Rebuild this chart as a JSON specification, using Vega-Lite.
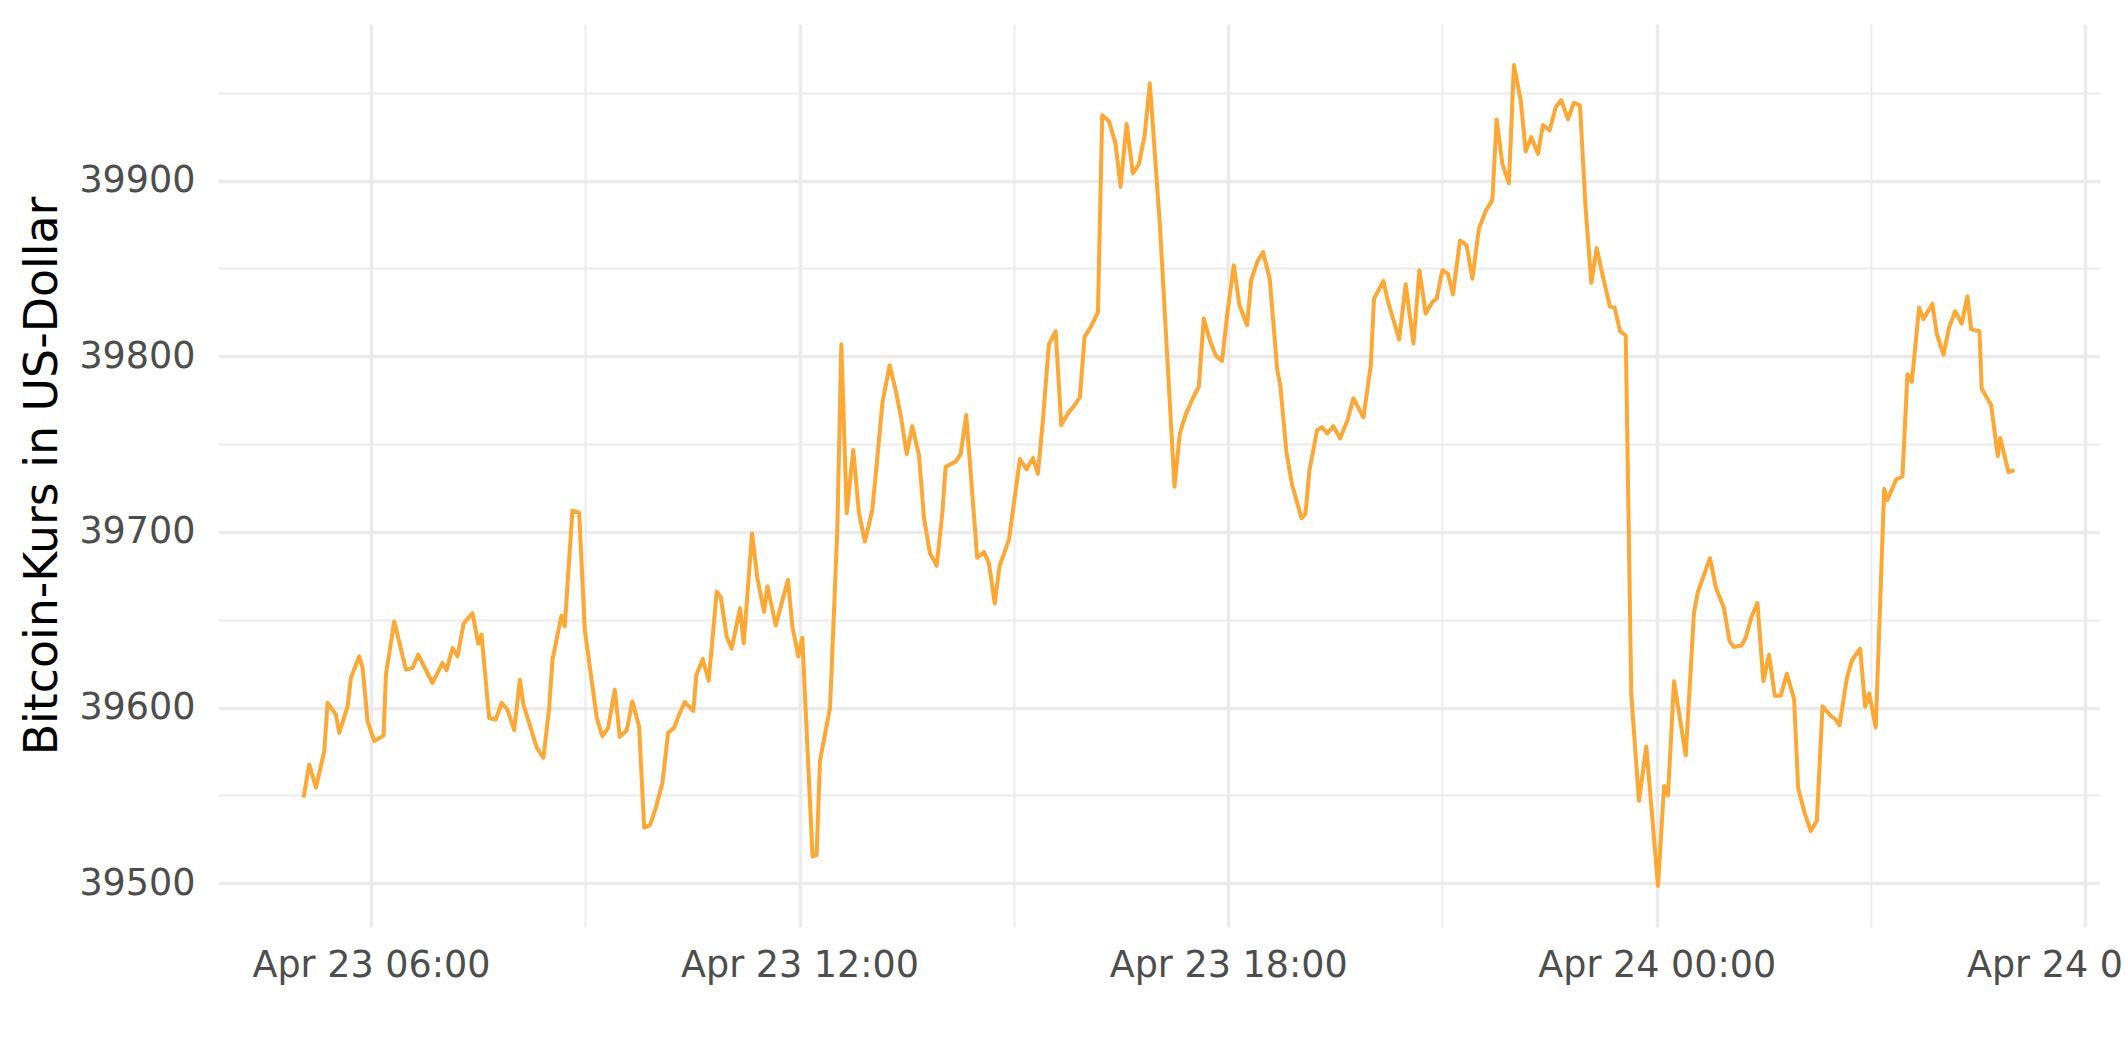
{
  "$schema": "https://vega.github.io/schema/vega-lite/v6.json",
  "width": 1882,
  "height": 903,
  "autosize": {"type": "none"},
  "padding": {"left": 218, "top": 24, "right": 25, "bottom": 135},
  "background": "white",
  "config": {"view": {"stroke": null}, "font": "DejaVu Sans"},
  "data": {"values": [
    {"time": "2022-04-23T05:03:24Z", "price": 39548.7},
    {"time": "2022-04-23T05:08:12Z", "price": 39567.6},
    {"time": "2022-04-23T05:13:48Z", "price": 39554.4},
    {"time": "2022-04-23T05:20:48Z", "price": 39575.2},
    {"time": "2022-04-23T05:23:36Z", "price": 39602.7},
    {"time": "2022-04-23T05:30:36Z", "price": 39596.0},
    {"time": "2022-04-23T05:33:24Z", "price": 39585.6},
    {"time": "2022-04-23T05:40:24Z", "price": 39600.7},
    {"time": "2022-04-23T05:43:12Z", "price": 39616.9},
    {"time": "2022-04-23T05:50:12Z", "price": 39629.2},
    {"time": "2022-04-23T05:53:00Z", "price": 39622.5},
    {"time": "2022-04-23T05:57:12Z", "price": 39592.2},
    {"time": "2022-04-23T06:02:48Z", "price": 39580.9},
    {"time": "2022-04-23T06:10:36Z", "price": 39584.1},
    {"time": "2022-04-23T06:12:36Z", "price": 39618.8},
    {"time": "2022-04-23T06:19:36Z", "price": 39649.0},
    {"time": "2022-04-23T06:29:24Z", "price": 39621.6},
    {"time": "2022-04-23T06:34:54Z", "price": 39622.5},
    {"time": "2022-04-23T06:39:42Z", "price": 39630.1},
    {"time": "2022-04-23T06:51:42Z", "price": 39614.0},
    {"time": "2022-04-23T07:00:06Z", "price": 39625.4},
    {"time": "2022-04-23T07:03:30Z", "price": 39621.2},
    {"time": "2022-04-23T07:08:30Z", "price": 39633.9},
    {"time": "2022-04-23T07:12:42Z", "price": 39629.2},
    {"time": "2022-04-23T07:17:48Z", "price": 39647.7},
    {"time": "2022-04-23T07:25:18Z", "price": 39653.8},
    {"time": "2022-04-23T07:30:06Z", "price": 39636.4},
    {"time": "2022-04-23T07:32:54Z", "price": 39641.5},
    {"time": "2022-04-23T07:39:18Z", "price": 39594.1},
    {"time": "2022-04-23T07:44:54Z", "price": 39593.2},
    {"time": "2022-04-23T07:49:42Z", "price": 39602.7},
    {"time": "2022-04-23T07:54:42Z", "price": 39598.9},
    {"time": "2022-04-23T08:00:18Z", "price": 39587.1},
    {"time": "2022-04-23T08:05:06Z", "price": 39615.9},
    {"time": "2022-04-23T08:08:06Z", "price": 39601.7},
    {"time": "2022-04-23T08:19:18Z", "price": 39577.1},
    {"time": "2022-04-23T08:24:54Z", "price": 39571.4},
    {"time": "2022-04-23T08:29:42Z", "price": 39599.8},
    {"time": "2022-04-23T08:32:30Z", "price": 39627.3},
    {"time": "2022-04-23T08:40:00Z", "price": 39652.3},
    {"time": "2022-04-23T08:42:48Z", "price": 39646.2},
    {"time": "2022-04-23T08:49:12Z", "price": 39712.1},
    {"time": "2022-04-23T08:54:54Z", "price": 39711.0},
    {"time": "2022-04-23T08:59:36Z", "price": 39644.3},
    {"time": "2022-04-23T09:09:42Z", "price": 39594.1},
    {"time": "2022-04-23T09:14:24Z", "price": 39583.7},
    {"time": "2022-04-23T09:19:12Z", "price": 39588.5},
    {"time": "2022-04-23T09:24:48Z", "price": 39610.2},
    {"time": "2022-04-23T09:29:00Z", "price": 39583.3},
    {"time": "2022-04-23T09:34:54Z", "price": 39587.1},
    {"time": "2022-04-23T09:39:36Z", "price": 39603.6},
    {"time": "2022-04-23T09:45:12Z", "price": 39589.4},
    {"time": "2022-04-23T09:49:30Z", "price": 39531.7},
    {"time": "2022-04-23T09:54:30Z", "price": 39533.1},
    {"time": "2022-04-23T09:59:12Z", "price": 39542.8},
    {"time": "2022-04-23T10:04:48Z", "price": 39557.1},
    {"time": "2022-04-23T10:09:36Z", "price": 39585.5},
    {"time": "2022-04-23T10:14:36Z", "price": 39588.5},
    {"time": "2022-04-23T10:18:48Z", "price": 39596.0},
    {"time": "2022-04-23T10:23:36Z", "price": 39603.1},
    {"time": "2022-04-23T10:30:48Z", "price": 39598.1},
    {"time": "2022-04-23T10:33:18Z", "price": 39618.4},
    {"time": "2022-04-23T10:38:42Z", "price": 39627.7},
    {"time": "2022-04-23T10:43:42Z", "price": 39615.3},
    {"time": "2022-04-23T10:50:24Z", "price": 39666.0},
    {"time": "2022-04-23T10:53:48Z", "price": 39663.0},
    {"time": "2022-04-23T10:58:48Z", "price": 39640.3},
    {"time": "2022-04-23T11:03:00Z", "price": 39633.6},
    {"time": "2022-04-23T11:10:00Z", "price": 39656.5},
    {"time": "2022-04-23T11:13:06Z", "price": 39636.6},
    {"time": "2022-04-23T11:20:06Z", "price": 39699.1},
    {"time": "2022-04-23T11:24:36Z", "price": 39673.7},
    {"time": "2022-04-23T11:30:12Z", "price": 39654.5},
    {"time": "2022-04-23T11:33:00Z", "price": 39669.1},
    {"time": "2022-04-23T11:40:00Z", "price": 39646.8},
    {"time": "2022-04-23T11:50:18Z", "price": 39672.7},
    {"time": "2022-04-23T11:53:54Z", "price": 39646.4},
    {"time": "2022-04-23T11:59:00Z", "price": 39629.1},
    {"time": "2022-04-23T12:02:18Z", "price": 39639.8},
    {"time": "2022-04-23T12:10:54Z", "price": 39515.3},
    {"time": "2022-04-23T12:14:18Z", "price": 39516.0},
    {"time": "2022-04-23T12:17:12Z", "price": 39570.0},
    {"time": "2022-04-23T12:25:36Z", "price": 39599.8},
    {"time": "2022-04-23T12:31:42Z", "price": 39701.1},
    {"time": "2022-04-23T12:35:06Z", "price": 39806.8},
    {"time": "2022-04-23T12:39:36Z", "price": 39710.6},
    {"time": "2022-04-23T12:45:06Z", "price": 39746.6},
    {"time": "2022-04-23T12:49:54Z", "price": 39710.6},
    {"time": "2022-04-23T12:54:54Z", "price": 39694.5},
    {"time": "2022-04-23T13:01:06Z", "price": 39712.5},
    {"time": "2022-04-23T13:05:18Z", "price": 39741.9},
    {"time": "2022-04-23T13:09:30Z", "price": 39773.1},
    {"time": "2022-04-23T13:15:42Z", "price": 39794.9},
    {"time": "2022-04-23T13:20:42Z", "price": 39780.7},
    {"time": "2022-04-23T13:24:54Z", "price": 39766.5},
    {"time": "2022-04-23T13:30:00Z", "price": 39744.3},
    {"time": "2022-04-23T13:34:42Z", "price": 39760.2},
    {"time": "2022-04-23T13:40:18Z", "price": 39743.7},
    {"time": "2022-04-23T13:44:30Z", "price": 39707.8},
    {"time": "2022-04-23T13:49:30Z", "price": 39687.9},
    {"time": "2022-04-23T13:55:12Z", "price": 39680.7},
    {"time": "2022-04-23T13:59:54Z", "price": 39710.6},
    {"time": "2022-04-23T14:02:42Z", "price": 39737.1},
    {"time": "2022-04-23T14:11:06Z", "price": 39740.0},
    {"time": "2022-04-23T14:15:18Z", "price": 39744.3},
    {"time": "2022-04-23T14:20:00Z", "price": 39766.5},
    {"time": "2022-04-23T14:29:12Z", "price": 39685.3},
    {"time": "2022-04-23T14:34:54Z", "price": 39688.6},
    {"time": "2022-04-23T14:39:06Z", "price": 39682.1},
    {"time": "2022-04-23T14:43:54Z", "price": 39659.3},
    {"time": "2022-04-23T14:48:00Z", "price": 39680.6},
    {"time": "2022-04-23T14:55:54Z", "price": 39695.6},
    {"time": "2022-04-23T15:05:06Z", "price": 39741.5},
    {"time": "2022-04-23T15:10:42Z", "price": 39735.6},
    {"time": "2022-04-23T15:16:00Z", "price": 39742.0},
    {"time": "2022-04-23T15:20:12Z", "price": 39733.0},
    {"time": "2022-04-23T15:24:36Z", "price": 39765.1},
    {"time": "2022-04-23T15:29:24Z", "price": 39806.8},
    {"time": "2022-04-23T15:35:06Z", "price": 39814.2},
    {"time": "2022-04-23T15:39:48Z", "price": 39760.8},
    {"time": "2022-04-23T15:46:12Z", "price": 39768.2},
    {"time": "2022-04-23T15:50:24Z", "price": 39771.5},
    {"time": "2022-04-23T15:55:30Z", "price": 39776.8},
    {"time": "2022-04-23T15:59:24Z", "price": 39811.0},
    {"time": "2022-04-23T16:04:24Z", "price": 39816.4},
    {"time": "2022-04-23T16:10:36Z", "price": 39824.9},
    {"time": "2022-04-23T16:14:12Z", "price": 39937.2},
    {"time": "2022-04-23T16:19:48Z", "price": 39933.9},
    {"time": "2022-04-23T16:25:24Z", "price": 39921.1},
    {"time": "2022-04-23T16:29:36Z", "price": 39896.5},
    {"time": "2022-04-23T16:34:42Z", "price": 39932.2},
    {"time": "2022-04-23T16:40:00Z", "price": 39904.0},
    {"time": "2022-04-23T16:45:00Z", "price": 39909.3},
    {"time": "2022-04-23T16:49:48Z", "price": 39925.4},
    {"time": "2022-04-23T16:54:12Z", "price": 39955.3},
    {"time": "2022-04-23T17:02:36Z", "price": 39875.4},
    {"time": "2022-04-23T17:14:54Z", "price": 39725.7},
    {"time": "2022-04-23T17:19:24Z", "price": 39756.1},
    {"time": "2022-04-23T17:24:12Z", "price": 39766.5},
    {"time": "2022-04-23T17:30:36Z", "price": 39776.5},
    {"time": "2022-04-23T17:35:18Z", "price": 39782.6},
    {"time": "2022-04-23T17:39:30Z", "price": 39821.4},
    {"time": "2022-04-23T17:44:36Z", "price": 39809.1},
    {"time": "2022-04-23T17:49:24Z", "price": 39800.6},
    {"time": "2022-04-23T17:54:54Z", "price": 39797.3},
    {"time": "2022-04-23T17:59:06Z", "price": 39823.3},
    {"time": "2022-04-23T18:04:42Z", "price": 39851.7},
    {"time": "2022-04-23T18:09:30Z", "price": 39829.0},
    {"time": "2022-04-23T18:15:54Z", "price": 39817.6},
    {"time": "2022-04-23T18:19:18Z", "price": 39843.2},
    {"time": "2022-04-23T18:24:18Z", "price": 39853.6},
    {"time": "2022-04-23T18:29:18Z", "price": 39859.3},
    {"time": "2022-04-23T18:34:54Z", "price": 39844.1},
    {"time": "2022-04-23T18:41:06Z", "price": 39793.0},
    {"time": "2022-04-23T18:43:54Z", "price": 39782.6},
    {"time": "2022-04-23T18:48:54Z", "price": 39745.6},
    {"time": "2022-04-23T18:53:42Z", "price": 39726.7},
    {"time": "2022-04-23T19:01:36Z", "price": 39707.8},
    {"time": "2022-04-23T19:04:54Z", "price": 39710.2},
    {"time": "2022-04-23T19:08:18Z", "price": 39735.2},
    {"time": "2022-04-23T19:14:42Z", "price": 39758.0},
    {"time": "2022-04-23T19:18:54Z", "price": 39759.5},
    {"time": "2022-04-23T19:23:24Z", "price": 39756.1},
    {"time": "2022-04-23T19:28:24Z", "price": 39760.2},
    {"time": "2022-04-23T19:34:00Z", "price": 39753.2},
    {"time": "2022-04-23T19:40:12Z", "price": 39763.6},
    {"time": "2022-04-23T19:45:12Z", "price": 39776.0},
    {"time": "2022-04-23T19:53:36Z", "price": 39765.2},
    {"time": "2022-04-23T19:59:48Z", "price": 39794.9},
    {"time": "2022-04-23T20:02:30Z", "price": 39832.8},
    {"time": "2022-04-23T20:10:24Z", "price": 39842.8},
    {"time": "2022-04-23T20:13:48Z", "price": 39832.2},
    {"time": "2022-04-23T20:23:36Z", "price": 39809.5},
    {"time": "2022-04-23T20:29:06Z", "price": 39840.9},
    {"time": "2022-04-23T20:35:36Z", "price": 39807.2},
    {"time": "2022-04-23T20:40:36Z", "price": 39848.9},
    {"time": "2022-04-23T20:45:54Z", "price": 39824.3},
    {"time": "2022-04-23T20:51:30Z", "price": 39830.9},
    {"time": "2022-04-23T20:55:06Z", "price": 39832.8},
    {"time": "2022-04-23T20:59:54Z", "price": 39848.9},
    {"time": "2022-04-23T21:04:36Z", "price": 39847.0},
    {"time": "2022-04-23T21:08:48Z", "price": 39835.2},
    {"time": "2022-04-23T21:14:42Z", "price": 39865.9},
    {"time": "2022-04-23T21:20:18Z", "price": 39863.1},
    {"time": "2022-04-23T21:25:06Z", "price": 39844.1},
    {"time": "2022-04-23T21:30:36Z", "price": 39872.6},
    {"time": "2022-04-23T21:36:18Z", "price": 39882.7},
    {"time": "2022-04-23T21:41:54Z", "price": 39889.0},
    {"time": "2022-04-23T21:45:30Z", "price": 39934.8},
    {"time": "2022-04-23T21:50:18Z", "price": 39909.5},
    {"time": "2022-04-23T21:55:48Z", "price": 39898.5},
    {"time": "2022-04-23T22:00:00Z", "price": 39965.7},
    {"time": "2022-04-23T22:05:42Z", "price": 39945.8},
    {"time": "2022-04-23T22:09:54Z", "price": 39916.5},
    {"time": "2022-04-23T22:14:36Z", "price": 39924.7},
    {"time": "2022-04-23T22:20:12Z", "price": 39915.2},
    {"time": "2022-04-23T22:24:24Z", "price": 39931.6},
    {"time": "2022-04-23T22:30:00Z", "price": 39928.5},
    {"time": "2022-04-23T22:35:06Z", "price": 39941.7},
    {"time": "2022-04-23T22:39:48Z", "price": 39945.8},
    {"time": "2022-04-23T22:45:24Z", "price": 39934.8},
    {"time": "2022-04-23T22:50:24Z", "price": 39944.3},
    {"time": "2022-04-23T22:55:30Z", "price": 39942.7},
    {"time": "2022-04-23T23:00:12Z", "price": 39884.3},
    {"time": "2022-04-23T23:05:00Z", "price": 39841.8},
    {"time": "2022-04-23T23:09:30Z", "price": 39861.6},
    {"time": "2022-04-23T23:15:36Z", "price": 39842.7},
    {"time": "2022-04-23T23:20:42Z", "price": 39828.2},
    {"time": "2022-04-23T23:24:36Z", "price": 39827.6},
    {"time": "2022-04-23T23:29:06Z", "price": 39814.3},
    {"time": "2022-04-23T23:33:54Z", "price": 39811.8},
    {"time": "2022-04-23T23:38:36Z", "price": 39606.9},
    {"time": "2022-04-23T23:45:00Z", "price": 39546.9},
    {"time": "2022-04-23T23:51:12Z", "price": 39577.8},
    {"time": "2022-04-24T00:01:00Z", "price": 39498.5},
    {"time": "2022-04-24T00:06:06Z", "price": 39555.3},
    {"time": "2022-04-24T00:09:24Z", "price": 39550.0},
    {"time": "2022-04-24T00:14:30Z", "price": 39615.0},
    {"time": "2022-04-24T00:24:18Z", "price": 39572.7},
    {"time": "2022-04-24T00:31:12Z", "price": 39653.8},
    {"time": "2022-04-24T00:34:36Z", "price": 39666.1},
    {"time": "2022-04-24T00:44:42Z", "price": 39685.0},
    {"time": "2022-04-24T00:49:30Z", "price": 39668.6},
    {"time": "2022-04-24T00:56:24Z", "price": 39656.6},
    {"time": "2022-04-24T01:01:12Z", "price": 39637.7},
    {"time": "2022-04-24T01:04:48Z", "price": 39634.5},
    {"time": "2022-04-24T01:11:06Z", "price": 39635.3},
    {"time": "2022-04-24T01:14:36Z", "price": 39639.6},
    {"time": "2022-04-24T01:19:42Z", "price": 39651.9},
    {"time": "2022-04-24T01:24:30Z", "price": 39659.5},
    {"time": "2022-04-24T01:29:30Z", "price": 39615.0},
    {"time": "2022-04-24T01:34:18Z", "price": 39630.1},
    {"time": "2022-04-24T01:39:06Z", "price": 39606.8},
    {"time": "2022-04-24T01:44:06Z", "price": 39606.8},
    {"time": "2022-04-24T01:49:12Z", "price": 39619.3},
    {"time": "2022-04-24T01:55:18Z", "price": 39604.9},
    {"time": "2022-04-24T01:58:42Z", "price": 39554.4},
    {"time": "2022-04-24T02:03:42Z", "price": 39541.1},
    {"time": "2022-04-24T02:09:18Z", "price": 39529.7},
    {"time": "2022-04-24T02:14:24Z", "price": 39535.4},
    {"time": "2022-04-24T02:19:12Z", "price": 39600.7},
    {"time": "2022-04-24T02:25:36Z", "price": 39595.6},
    {"time": "2022-04-24T02:29:48Z", "price": 39593.5},
    {"time": "2022-04-24T02:33:24Z", "price": 39589.8},
    {"time": "2022-04-24T02:39:36Z", "price": 39616.5},
    {"time": "2022-04-24T02:43:48Z", "price": 39626.8},
    {"time": "2022-04-24T02:50:48Z", "price": 39633.6},
    {"time": "2022-04-24T02:55:00Z", "price": 39600.5},
    {"time": "2022-04-24T02:58:24Z", "price": 39608.0},
    {"time": "2022-04-24T03:03:54Z", "price": 39588.7},
    {"time": "2022-04-24T03:11:00Z", "price": 39724.5},
    {"time": "2022-04-24T03:13:42Z", "price": 39718.1},
    {"time": "2022-04-24T03:21:00Z", "price": 39729.8},
    {"time": "2022-04-24T03:26:18Z", "price": 39731.5},
    {"time": "2022-04-24T03:30:30Z", "price": 39789.7},
    {"time": "2022-04-24T03:34:12Z", "price": 39785.4},
    {"time": "2022-04-24T03:40:18Z", "price": 39827.7},
    {"time": "2022-04-24T03:44:00Z", "price": 39821.1},
    {"time": "2022-04-24T03:51:30Z", "price": 39829.9},
    {"time": "2022-04-24T03:55:06Z", "price": 39812.8},
    {"time": "2022-04-24T04:00:48Z", "price": 39800.8},
    {"time": "2022-04-24T04:05:30Z", "price": 39816.4},
    {"time": "2022-04-24T04:10:36Z", "price": 39825.6},
    {"time": "2022-04-24T04:16:06Z", "price": 39818.5},
    {"time": "2022-04-24T04:20:54Z", "price": 39834.1},
    {"time": "2022-04-24T04:24:00Z", "price": 39815.3},
    {"time": "2022-04-24T04:31:00Z", "price": 39814.3},
    {"time": "2022-04-24T04:32:54Z", "price": 39781.5},
    {"time": "2022-04-24T04:40:48Z", "price": 39772.2},
    {"time": "2022-04-24T04:46:24Z", "price": 39743.1},
    {"time": "2022-04-24T04:48:24Z", "price": 39753.4},
    {"time": "2022-04-24T04:55:24Z", "price": 39734.1},
    {"time": "2022-04-24T05:00:24Z", "price": 39735.2}
  ]},
  "mark": {"type": "line", "color": "#FFA733", "strokeWidth": 4, "strokeJoin": "round", "strokeCap": "butt", "clip": true},
  "encoding": {
    "x": {
      "field": "time",
      "type": "temporal",
      "scale": {
        "type": "utc",
        "nice": false,
        "domain": [
          {"year": 2022, "month": 4, "date": 23, "hours": 3, "minutes": 51, "seconds": 33, "utc": true},
          {"year": 2022, "month": 4, "date": 24, "hours": 6, "minutes": 12, "seconds": 15, "utc": true}
        ]
      },
      "axis": {
        "title": null,
        "values": [1650693600000, 1650704400000, 1650715200000, 1650726000000, 1650736800000, 1650747600000, 1650758400000, 1650769200000, 1650780000000],
        "labelExpr": "utchours(datum.value) % 6 == 0 ? utcFormat(datum.value, '%b %d %H:%M') : ''",
        "grid": true,
        "gridColor": "#EBEBEB",
        "gridWidth": {"condition": {"test": "utchours(datum.value) % 6 == 0", "value": 3.5}, "value": 1.8},
        "ticks": false,
        "domain": false,
        "labelFont": "DejaVu Sans",
        "labelFontSize": 36.5,
        "labelColor": "#4D4D4D",
        "labelPadding": 20,
        "labelLimit": 1000,
        "labelOverlap": false,
        "labelFlush": false,
        "labelBound": false
      }
    },
    "y": {
      "field": "price",
      "type": "quantitative",
      "scale": {"domain": [39475.1, 39989.1], "nice": false, "zero": false},
      "axis": {
        "title": "Bitcoin-Kurs in US-Dollar",
        "values": [39500, 39550, 39600, 39650, 39700, 39750, 39800, 39850, 39900, 39950],
        "format": "d",
        "labelExpr": "datum.value % 100 == 0 ? datum.label : ''",
        "grid": true,
        "gridColor": "#EBEBEB",
        "gridWidth": {"condition": {"test": "datum.value % 100 == 0", "value": 3.5}, "value": 1.8},
        "ticks": false,
        "domain": false,
        "labelFont": "DejaVu Sans",
        "labelFontSize": 36.5,
        "labelColor": "#4D4D4D",
        "labelPadding": 23,
        "labelLimit": 1000,
        "labelOverlap": false,
        "titleFont": "DejaVu Sans",
        "titleFontSize": 45.8,
        "titleFontWeight": "normal",
        "titleColor": "#000000",
        "titlePadding": 12
      }
    }
  }
}
